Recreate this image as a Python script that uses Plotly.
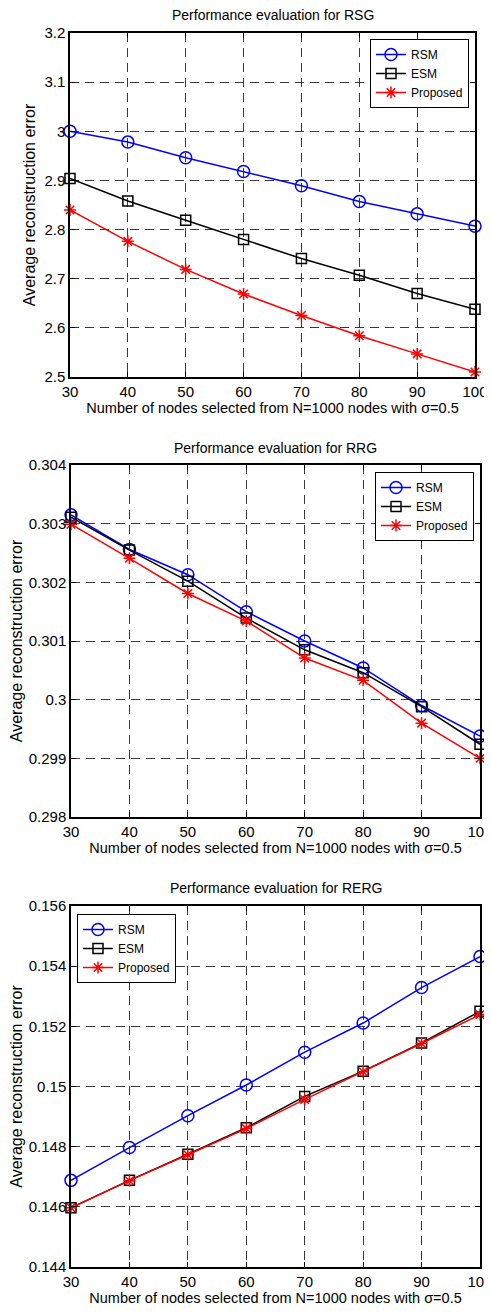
import plotly.graph_objects as go

x_nodes = [30, 40, 50, 60, 70, 80, 90, 100]
series_names = ["RSM", "ESM", "Proposed"]

rsg_rsm = [3.000, 2.978, 2.946, 2.918, 2.889, 2.857, 2.832, 2.807]
rsg_esm = [2.904, 2.858, 2.819, 2.780, 2.741, 2.707, 2.670, 2.638]
rsg_prop = [2.840, 2.776, 2.719, 2.669, 2.625, 2.584, 2.547, 2.510]

rrg_rsm = [0.30315, 0.30256, 0.30213, 0.30150, 0.30100, 0.30054, 0.29990, 0.29938]
rrg_esm = [0.30311, 0.30255, 0.30202, 0.30139, 0.30085, 0.30046, 0.29988, 0.29924]
rrg_prop = [0.30299, 0.30241, 0.30181, 0.30134, 0.30071, 0.30033, 0.29960, 0.29900]

rerg_rsm = [0.14688, 0.14797, 0.14903, 0.15005, 0.15114, 0.15211, 0.15329, 0.15432]
rerg_esm = [0.14597, 0.14688, 0.14775, 0.14863, 0.14967, 0.15051, 0.15145, 0.15250]
rerg_prop = [0.14597, 0.14687, 0.14773, 0.14860, 0.14957, 0.15049, 0.15143, 0.15239]

x_ticks = [30, 40, 50, 60, 70, 80, 90, 100]
rsg_yticks = [2.5, 2.6, 2.7, 2.8, 2.9, 3.0, 3.1, 3.2]
rsg_ytext = ["2.5", "2.6", "2.7", "2.8", "2.9", "3", "3.1", "3.2"]
rrg_yticks = [0.298, 0.299, 0.300, 0.301, 0.302, 0.303, 0.304]
rrg_ytext = ["0.298", "0.299", "0.3", "0.301", "0.302", "0.303", "0.304"]
rerg_yticks = [0.144, 0.146, 0.148, 0.150, 0.152, 0.154, 0.156]
rerg_ytext = ["0.144", "0.146", "0.148", "0.15", "0.152", "0.154", "0.156"]

titles = ["Performance evaluation for RSG", "Performance evaluation for RRG",
          "Performance evaluation for RERG"]
xlabel = "Number of nodes selected from N=1000 nodes with σ=0.5"
ylabel = "Average reconstruction error"

# page is 492x1314; body has an 8px default margin
OFF = 8
W, H = 492 - OFF, 1314 - 2 * OFF
FONT = "Liberation Sans, Arial, sans-serif"


def fx(px):
    return (px - OFF) / W


def fy(py):
    return 1 - (py - OFF) / H


styles = [
    dict(color="#0000FF", symbol="circle-open", size=12, lw=1.5),
    dict(color="#000000", symbol="square-open", size=10, lw=1.5),
    dict(color="#FF0000", symbol="asterisk-open", size=10, lw=1.5),
]

panels = [
    dict(data=[rsg_rsm, rsg_esm, rsg_prop], yt=rsg_yticks, ytt=rsg_ytext,
         px_x=(70, 475), px_y=(33, 377), legend=dict(x=469, y=39, xa="right"), title_y=15),
    dict(data=[rrg_rsm, rrg_esm, rrg_prop], yt=rrg_yticks, ytt=rrg_ytext,
         px_x=(71, 480), px_y=(465, 817), legend=dict(x=474, y=472, xa="right"), title_y=448),
    dict(data=[rerg_rsm, rerg_esm, rerg_prop], yt=rerg_yticks, ytt=rerg_ytext,
         px_x=(71, 480), px_y=(906, 1267), legend=dict(x=77, y=914, xa="left"), title_y=888),
]

fig = go.Figure()
layout = dict(
    width=W, height=H, margin=dict(l=0, r=0, t=0, b=0, pad=0, autoexpand=False),
    paper_bgcolor="white", plot_bgcolor="white",
    font=dict(family=FONT, color="black", size=12),
    annotations=[],
)

for i, p in enumerate(panels):
    k = "" if i == 0 else str(i + 1)
    leg = "legend" + k
    for j, (name, st) in enumerate(zip(series_names, styles)):
        fig.add_trace(go.Scatter(
            x=x_nodes, y=p["data"][j], name=name, mode="lines+markers",
            xaxis="x" + k, yaxis="y" + k, legend=leg, cliponaxis=False,
            line=dict(color=st["color"], width=st["lw"]),
            marker=dict(symbol=st["symbol"], size=st["size"], color=st["color"],
                        line=dict(color=st["color"], width=1.5)),
        ))
    x0, x1 = p["px_x"]
    y0, y1 = p["px_y"]
    common = dict(showline=True, linecolor="black", linewidth=1.5, mirror="ticks",
                  ticks="inside", ticklen=5, tickcolor="black", tickwidth=1,
                  showgrid=True, gridcolor="#3a3a3a", griddash="9px,6px", gridwidth=1,
                  zeroline=False, ticklabeloverflow="allow", automargin=False,
                  tickfont=dict(size=15, family=FONT, color="black"))
    layout["xaxis" + k] = dict(
        domain=[fx(x0), fx(x1)], anchor="y" + k, range=[30, 100],
        tickvals=x_ticks, ticktext=[str(v) for v in x_ticks],
        title=dict(text=xlabel, font=dict(size=14.5), standoff=2), **common)
    layout["yaxis" + k] = dict(
        domain=[fy(y1), fy(y0)], anchor="x" + k,
        range=[p["yt"][0], p["yt"][-1]], tickvals=p["yt"], ticktext=p["ytt"],
        title=dict(text=ylabel, font=dict(size=16), standoff=5), **common)
    lg = p["legend"]
    layout[leg] = dict(
        x=fx(lg["x"]), y=fy(lg["y"]), xanchor=lg["xa"], yanchor="top",
        bgcolor="white", bordercolor="black", borderwidth=1,
        font=dict(size=12, family=FONT), tracegroupgap=0,
    )
    layout["annotations"].append(dict(
        text=titles[i], x=fx((x0 + x1) / 2), y=fy(p["title_y"]),
        xref="paper", yref="paper", showarrow=False, xanchor="center", yanchor="middle",
        font=dict(size=14, family=FONT, color="black")))

fig.update_layout(**layout)
fig.write_html("out.html")
